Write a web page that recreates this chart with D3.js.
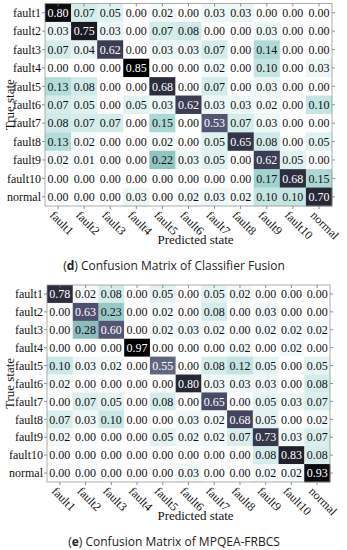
<!DOCTYPE html>
<html>
<head>
<meta charset="utf-8">
<script src="https://cdn.jsdelivr.net/npm/d3@7"></script>
<style>
  body { margin: 0; background: #fff; }
  .serif { font-family: "Liberation Serif", "Times New Roman", serif; }
  .sans { font-family: "Open Sans", "Noto Sans", sans-serif; }
</style>
</head>
<body>
<script>
const width = 347, height = 550;

// class labels (rows = true state, columns = predicted state)
const classes = ["fault1", "fault2", "fault3", "fault4", "fault5", "fault6", "fault7", "fault8", "fault9", "fault10", "normal"];

// (d) classifier fusion
const fusionMatrix = [
  [0.80, 0.07, 0.05, 0.00, 0.02, 0.00, 0.03, 0.03, 0.00, 0.00, 0.00],
  [0.03, 0.75, 0.03, 0.00, 0.07, 0.08, 0.00, 0.00, 0.03, 0.00, 0.00],
  [0.07, 0.04, 0.62, 0.00, 0.03, 0.03, 0.07, 0.00, 0.14, 0.00, 0.00],
  [0.00, 0.00, 0.00, 0.85, 0.00, 0.00, 0.02, 0.00, 0.10, 0.00, 0.03],
  [0.13, 0.08, 0.00, 0.00, 0.68, 0.00, 0.07, 0.00, 0.03, 0.00, 0.00],
  [0.07, 0.05, 0.00, 0.05, 0.03, 0.62, 0.03, 0.03, 0.02, 0.00, 0.10],
  [0.08, 0.07, 0.07, 0.00, 0.15, 0.00, 0.53, 0.07, 0.03, 0.00, 0.00],
  [0.13, 0.02, 0.00, 0.00, 0.02, 0.00, 0.05, 0.65, 0.08, 0.00, 0.05],
  [0.02, 0.01, 0.00, 0.00, 0.22, 0.03, 0.05, 0.00, 0.62, 0.05, 0.00],
  [0.00, 0.00, 0.00, 0.00, 0.00, 0.00, 0.00, 0.00, 0.17, 0.68, 0.15],
  [0.00, 0.00, 0.00, 0.03, 0.00, 0.02, 0.03, 0.02, 0.10, 0.10, 0.70]
];

// (e) MPQEA-FRBCS
const frbcsMatrix = [
  [0.78, 0.02, 0.08, 0.00, 0.05, 0.00, 0.05, 0.02, 0.00, 0.00, 0.00],
  [0.00, 0.63, 0.23, 0.00, 0.02, 0.00, 0.08, 0.00, 0.03, 0.00, 0.00],
  [0.00, 0.28, 0.60, 0.00, 0.02, 0.03, 0.02, 0.00, 0.02, 0.02, 0.02],
  [0.00, 0.00, 0.00, 0.97, 0.00, 0.00, 0.00, 0.02, 0.00, 0.02, 0.00],
  [0.10, 0.03, 0.02, 0.00, 0.55, 0.00, 0.08, 0.12, 0.05, 0.00, 0.05],
  [0.02, 0.00, 0.00, 0.00, 0.00, 0.80, 0.03, 0.03, 0.03, 0.00, 0.08],
  [0.00, 0.07, 0.05, 0.00, 0.08, 0.00, 0.65, 0.00, 0.05, 0.03, 0.07],
  [0.07, 0.03, 0.10, 0.00, 0.00, 0.03, 0.02, 0.68, 0.05, 0.00, 0.02],
  [0.02, 0.00, 0.00, 0.00, 0.05, 0.02, 0.02, 0.07, 0.73, 0.03, 0.07],
  [0.00, 0.00, 0.00, 0.00, 0.00, 0.00, 0.00, 0.00, 0.08, 0.83, 0.08],
  [0.00, 0.00, 0.00, 0.00, 0.00, 0.03, 0.00, 0.00, 0.02, 0.02, 0.93]
];

const panelLetters = ["d", "e"];
const panelTitles = [" Confusion Matrix of Classifier Fusion", " Confusion Matrix of MPQEA-FRBCS"];

// matplotlib "bone" colormap, reversed, with a touch more teal
const boneR = t => {
  const s = 1 - t;
  const r = s < 0.746032 ? s / 0.746032 * 0.652778 : 0.652778 + (s - 0.746032) / (1 - 0.746032) * (1 - 0.652778);
  let g;
  if (s < 0.365079) g = s / 0.365079 * 0.319444;
  else if (s < 0.746032) g = 0.319444 + (s - 0.365079) / (0.746032 - 0.365079) * (0.777778 - 0.319444);
  else g = 0.777778 + (s - 0.746032) / (1 - 0.746032) * (1 - 0.777778);
  const b = s < 0.365079 ? s / 0.365079 * 0.444444 : 0.444444 + (s - 0.365079) / (1 - 0.365079) * (1 - 0.444444);
  const tint = s > 0.6 ? Math.sin((s - 0.6) / 0.4 * Math.PI) * 0.09 : 0;
  return d3.rgb((r - tint) * 255, g * 255, (b - tint * 0.15) * 255).toString();
};

const svg = d3.select("body").append("svg").attr("width", width).attr("height", height);

function drawPanel(matrix, box, letter, title) {
  const g = svg.append("g");
  const x = d3.scaleBand().domain(classes).range([box.left, box.right]);
  const y = d3.scaleBand().domain(classes).range([box.top, box.bottom]);
  const maxV = d3.max(matrix.flat());
  const color = v => boneR(v / maxV);
  const cy = d => y(d) + y.bandwidth() / 2, cx = d => x(d) + x.bandwidth() / 2;

  const cells = matrix.flatMap((row, i) => row.map((v, j) => ({ r: classes[i], c: classes[j], v })));

  g.selectAll("rect.cell").data(cells).join("rect")
    .attr("class", "cell")
    .attr("x", d => x(d.c)).attr("y", d => y(d.r))
    .attr("width", x.bandwidth() + 0.3).attr("height", y.bandwidth() + 0.3)
    .attr("fill", d => color(d.v));

  g.selectAll("text.val").data(cells).join("text")
    .attr("class", "val serif")
    .attr("x", d => cx(d.c))
    .attr("y", d => cy(d.r))
    .attr("dy", "0.35em").attr("text-anchor", "middle")
    .style("font-size", "12px")
    .attr("fill", d => d.v > maxV / 2 ? "#fff" : "#111")
    .text(d => d.v.toFixed(2));

  // frame
  g.append("rect")
    .attr("x", box.left).attr("y", box.top)
    .attr("width", box.right - box.left).attr("height", box.bottom - box.top)
    .attr("fill", "none").attr("stroke", "#9a9a9a").attr("stroke-width", 0.8);

  // ticks on all four sides
  const tk = 3;
  const tick = (cls, x1, x2, y1, y2) => g.selectAll("line." + cls).data(classes).join("line")
    .attr("class", cls)
    .attr("x1", x1).attr("x2", x2).attr("y1", y1).attr("y2", y2)
    .attr("stroke", "#777").attr("stroke-width", 0.8);
  tick("lt", box.left - tk, box.left, cy, cy);
  tick("rt", box.right, box.right + tk, cy, cy);
  tick("tt", cx, cx, box.top, box.top + tk);
  tick("bt", cx, cx, box.bottom, box.bottom + tk);

  // row labels
  g.selectAll("text.rl").data(classes).join("text")
    .attr("class", "rl serif")
    .attr("x", box.left - 4)
    .attr("y", cy)
    .attr("dy", "0.35em").attr("text-anchor", "end")
    .style("font-size", "12px").attr("fill", "#111")
    .text(d => d);

  // column labels, rotated
  g.selectAll("text.cl").data(classes).join("text")
    .attr("class", "cl serif")
    .attr("transform", d => `translate(${cx(d) - 6},${box.bottom + 7}) rotate(45)`)
    .attr("dy", "0.35em").attr("text-anchor", "start")
    .style("font-size", "12px").attr("fill", "#111")
    .text(d => d);

  // axis titles
  g.append("text")
    .attr("class", "serif")
    .attr("x", (box.left + box.right) / 2 + 7).attr("y", box.bottom + 38)
    .attr("text-anchor", "middle")
    .style("font-size", "13px").attr("fill", "#111")
    .text("Predicted state");
  g.append("text")
    .attr("class", "serif")
    .attr("transform", `translate(14,${(box.top + box.bottom) / 2}) rotate(-90)`)
    .attr("text-anchor", "middle")
    .style("font-size", "13px").attr("fill", "#111")
    .text("True state");

  // panel caption
  const cap = g.append("text")
    .attr("class", "sans")
    .attr("x", 174).attr("y", box.bottom + 64)
    .attr("text-anchor", "middle")
    .style("font-size", "12px").attr("fill", "#222");
  cap.append("tspan").text("(");
  cap.append("tspan").attr("font-weight", "bold").text(letter);
  cap.append("tspan").text(")" + title);
}

drawPanel(fusionMatrix, { left: 45, right: 332, top: 3.5, bottom: 206 }, panelLetters[0], panelTitles[0]);
drawPanel(frbcsMatrix, { left: 47, right: 330, top: 285, bottom: 482 }, panelLetters[1], panelTitles[1]);
</script>
</body>
</html>
